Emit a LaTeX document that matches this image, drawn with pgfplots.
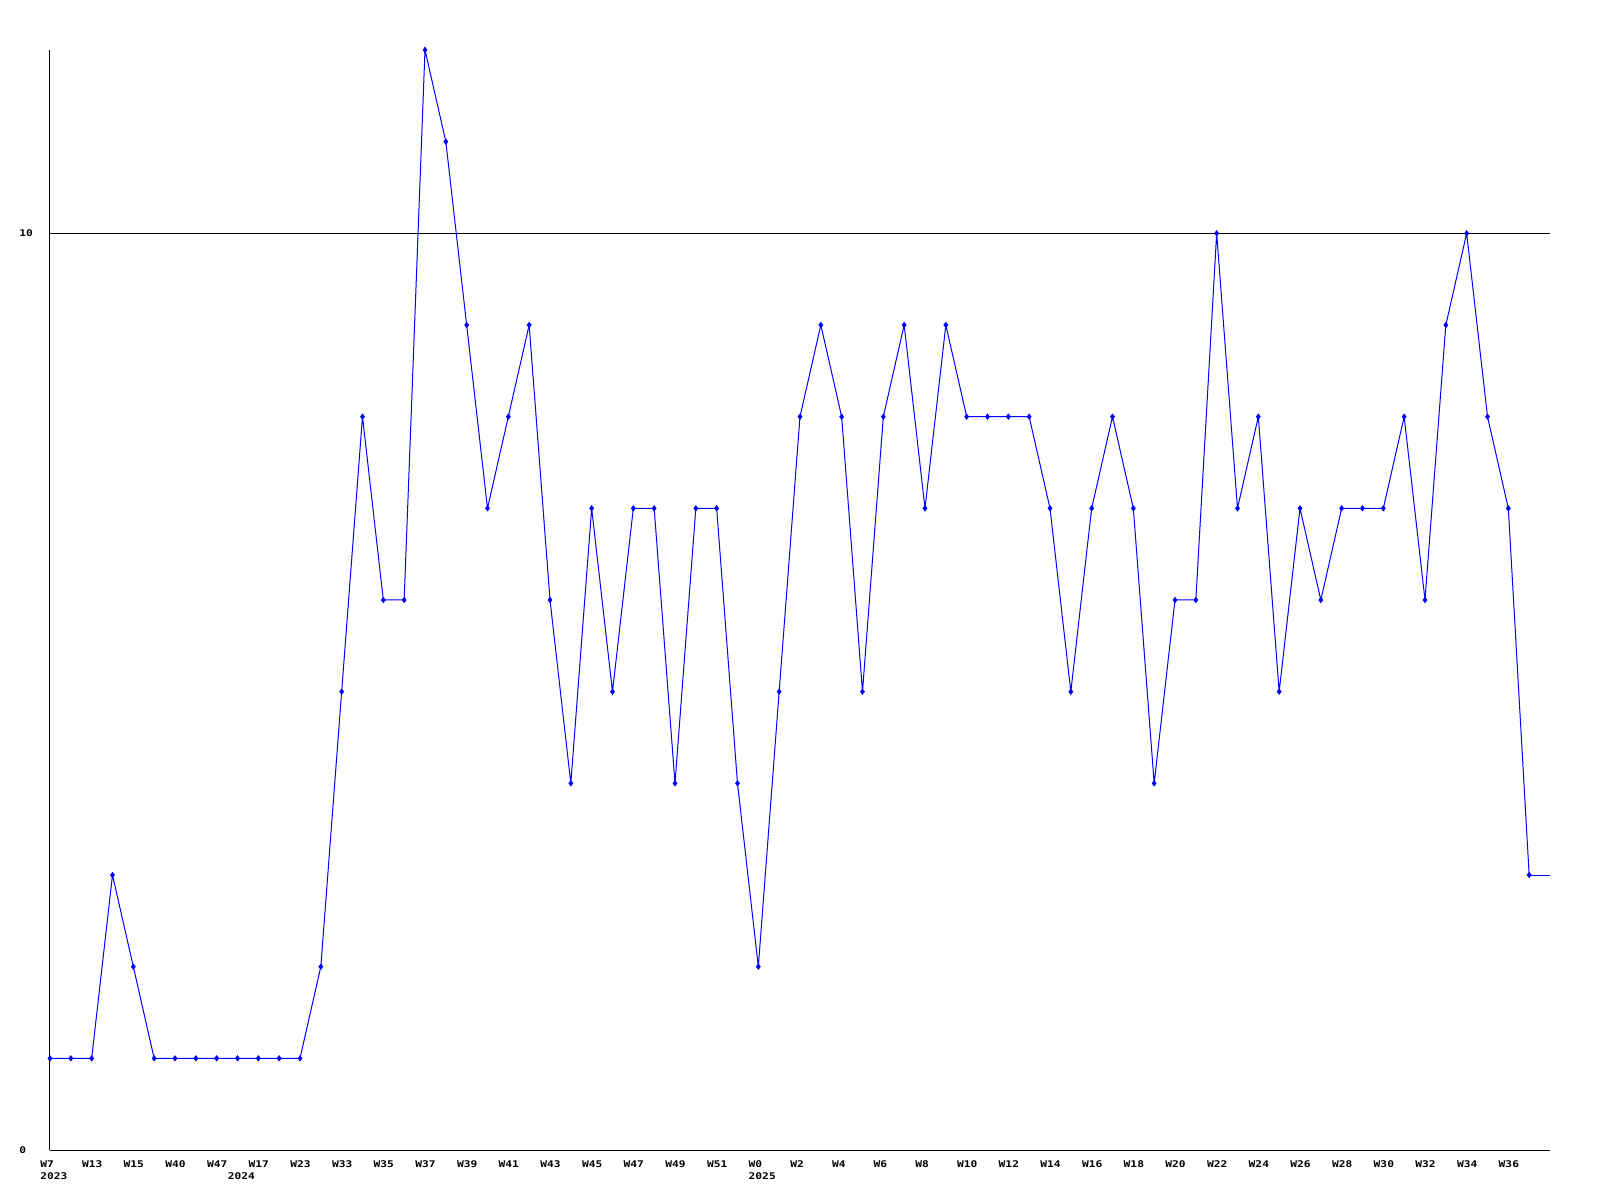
\documentclass[border=0pt]{standalone}
\usepackage{fontspec}
\setmainfont[FakeStretch=1.22]{DejaVu Sans Mono}
\usepackage{pgfplots}
\pgfplotsset{compat=1.18}
\begin{document}
\begin{tikzpicture}
\begin{axis}[
    at={(0pt,0pt)}, anchor=south west,
    scale only axis, width=750pt, height=550pt,
    xmin=0, xmax=72, ymin=0, ymax=12,
    axis x line*=bottom, axis y line*=left,
    axis line style={-, black, line width=0.5pt},
    major tick length=0pt,
    ytick={0,10}, yticklabels={0,10},
    ymajorgrids, grid style={black, line width=0.5pt},
    xtick={0,2,...,70},
    xticklabels={W7,W13,W15,W40,W47,W17,W23,W33,W35,W37,W39,W41,W43,W45,W47,W49,W51,W0,W2,W4,W6,W8,W10,W12,W14,W16,W18,W20,W22,W24,W26,W28,W30,W32,W34,W36},
    extra x ticks={0,9,34},
    extra x tick labels={2023,2024,2025},
    extra x tick style={xticklabel style={yshift=-6pt}},
    ticklabel style={font=\fontsize{4.6}{6}\selectfont\bfseries},
    xticklabel style={anchor=north west, inner sep=0pt, xshift=-5pt, yshift=-5pt},
    yticklabel style={anchor=west, inner sep=0pt, xshift=-15.5pt},
    /pgf/number format/assume math mode=true,
    clip=false,
]
\addplot[blue, line width=0.5pt, mark=diamond*, mark size=1.2pt] coordinates {
(0,1)(1,1)(2,1)(3,3)(4,2)(5,1)(6,1)(7,1)(8,1)(9,1)
(10,1)(11,1)(12,1)(13,2)(14,5)(15,8)(16,6)(17,6)(18,12)(19,11)
(20,9)(21,7)(22,8)(23,9)(24,6)(25,4)(26,7)(27,5)(28,7)(29,7)
(30,4)(31,7)(32,7)(33,4)(34,2)(35,5)(36,8)(37,9)(38,8)(39,5)
(40,8)(41,9)(42,7)(43,9)(44,8)(45,8)(46,8)(47,8)(48,7)(49,5)
(50,7)(51,8)(52,7)(53,4)(54,6)(55,6)(56,10)(57,7)(58,8)(59,5)
(60,7)(61,6)(62,7)(63,7)(64,7)(65,8)(66,6)(67,9)(68,10)(69,8)
(70,7)(71,3)};
\addplot[blue, line width=0.5pt, no marks] coordinates {(71,3)(72,3)};
\end{axis}
\pgfresetboundingbox
\path (-25pt,-25pt) rectangle (775pt,575pt);
\end{tikzpicture}
\end{document}
